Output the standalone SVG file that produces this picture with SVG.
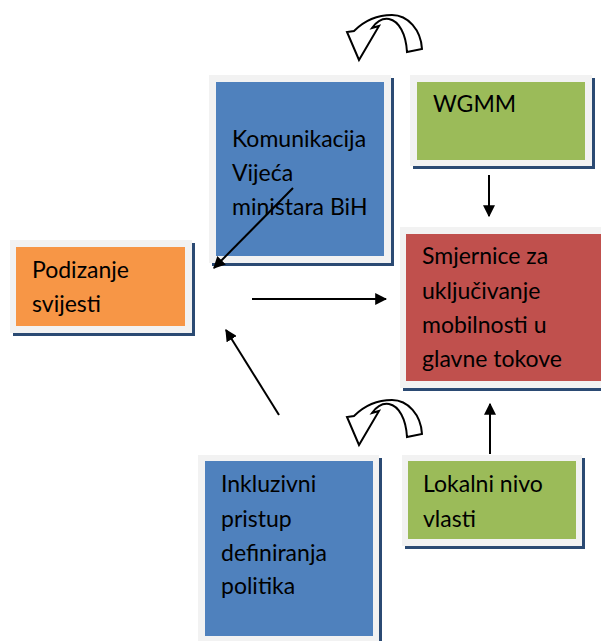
<svg xmlns="http://www.w3.org/2000/svg" width="601" height="641" viewBox="0 0 601 641">
<defs>
<style>
.shadow{fill:#2b4a73}
.frame{fill:#f2f2f2}
.blue{fill:#4f81bd}
.green{fill:#9bbb59}
.orange{fill:#f79646}
.red{fill:#c0504d}
.lbl{font-family:Lato,"Open Sans","Liberation Sans",sans-serif;font-size:23px;fill:#000}
.conn{stroke:#000;stroke-width:2;fill:none}
.curve{fill:#fff;stroke:#000;stroke-width:2;stroke-linejoin:miter}
</style>
<marker id="ah" viewBox="0 0 10 10" refX="9" refY="5" markerWidth="6" markerHeight="6" orient="auto" markerUnits="strokeWidth">
<path d="M0,0 L10,5 L0,10 Z" fill="#000"/>
</marker>
<path id="curl" d="M422,49 C421,30 408,15 392,15 C375,15 362,23 354,31 L347,32 L359,60 L379,26 L372,28 C377,21 383,18 389,19 C399,21 406,34 407,52 Z"/>
</defs>
<g id="komunikacija">
<rect class="shadow" x="212" y="78" width="182" height="188"/>
<rect class="frame" x="209" y="75" width="182" height="188"/>
<rect class="blue" x="216" y="82" width="168" height="174"/>
<text class="lbl" x="232" y="147">Komunikacija</text>
<text class="lbl" x="232" y="181">Vijeća</text>
<text class="lbl" x="232" y="215">ministara BiH</text>
</g>
<g id="wgmm">
<rect class="shadow" x="413" y="78" width="182" height="91"/>
<rect class="frame" x="410" y="75" width="182" height="91"/>
<rect class="green" x="417" y="82" width="168" height="78"/>
<text class="lbl" x="433" y="112">WGMM</text>
</g>
<g id="podizanje">
<rect class="shadow" x="13" y="243" width="182" height="93"/>
<rect class="frame" x="10" y="240" width="182" height="93"/>
<rect class="orange" x="16" y="247" width="169" height="79"/>
<text class="lbl" x="32" y="278">Podizanje</text>
<text class="lbl" x="32" y="312">svijesti</text>
</g>
<g id="smjernice">
<rect class="shadow" x="403" y="230" width="210" height="161"/>
<rect class="frame" x="400" y="227" width="210" height="161"/>
<rect class="red" x="406" y="234" width="200" height="147"/>
<text class="lbl" x="422" y="264">Smjernice za</text>
<text class="lbl" x="422" y="299">uključivanje</text>
<text class="lbl" x="422" y="333">mobilnosti u</text>
<text class="lbl" x="422" y="367">glavne tokove</text>
</g>
<g id="inkluzivni">
<rect class="shadow" x="201" y="458" width="181" height="190"/>
<rect class="frame" x="198" y="455" width="181" height="190"/>
<rect class="blue" x="205" y="461" width="168" height="175"/>
<text class="lbl" x="221" y="492">Inkluzivni</text>
<text class="lbl" x="221" y="527">pristup</text>
<text class="lbl" x="221" y="561">definiranja</text>
<text class="lbl" x="221" y="594">politika</text>
</g>
<g id="lokalni">
<rect class="shadow" x="405" y="458" width="180" height="91"/>
<rect class="frame" x="402" y="455" width="180" height="91"/>
<rect class="green" x="408" y="461" width="168" height="78"/>
<text class="lbl" x="423" y="492">Lokalni nivo</text>
<text class="lbl" x="423" y="527">vlasti</text>
</g>
<g id="curl-top">
<use href="#curl" class="curve"/>
</g>
<g id="curl-bottom">
<use href="#curl" class="curve" transform="translate(0,385)"/>
</g>
<g id="connectors">
<line class="conn" x1="293" y1="188" x2="214" y2="268" marker-end="url(#ah)"/>
<line class="conn" x1="252" y1="299" x2="386" y2="299" marker-end="url(#ah)"/>
<line class="conn" x1="279" y1="415" x2="226" y2="330" marker-end="url(#ah)"/>
<line class="conn" x1="489" y1="175" x2="489" y2="216" marker-end="url(#ah)"/>
<line class="conn" x1="490" y1="454" x2="490" y2="404" marker-end="url(#ah)"/>
</g>
</svg>
